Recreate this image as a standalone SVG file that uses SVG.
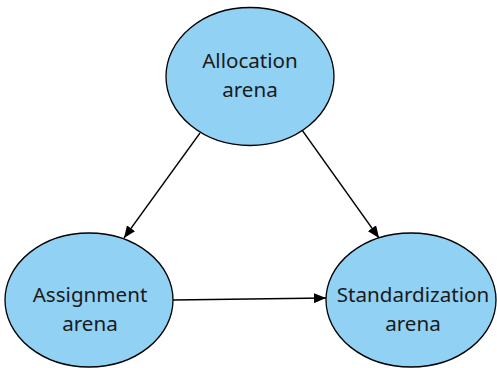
<svg xmlns="http://www.w3.org/2000/svg" width="497" height="368" viewBox="0 0 497 368">
  <style>
    .node ellipse { fill: #91d1f3; stroke: #000; stroke-width: 1.3; }
    .node text { font-family: "Noto Sans", "Open Sans", sans-serif; font-size: 20.6px; fill: #1a1a1a; text-anchor: middle; }
    .edge { stroke: #000; stroke-width: 1.3; fill: none; marker-end: url(#arrow); }
  </style>
  <defs>
    <marker id="arrow" markerWidth="12" markerHeight="10" refX="12" refY="5" orient="auto" markerUnits="userSpaceOnUse">
      <path d="M0,0 L12,5 L0,10 Z" fill="#000"/>
    </marker>
  </defs>
  <rect width="497" height="368" fill="#fff"/>

  <g id="connectors">
    <line class="edge" x1="200" y1="133" x2="124" y2="238"/>
    <line class="edge" x1="302" y1="130" x2="379" y2="238"/>
    <line class="edge" x1="173" y1="300" x2="326" y2="298"/>
  </g>

  <g id="allocation" class="node">
    <ellipse cx="250" cy="76.5" rx="84" ry="69"/>
    <text x="250" y="68">Allocation</text>
    <text x="250" y="97">arena</text>
  </g>

  <g id="assignment" class="node">
    <ellipse cx="89" cy="300" rx="84" ry="67"/>
    <text x="90" y="302">Assignment</text>
    <text x="90" y="331">arena</text>
  </g>

  <g id="standardization" class="node">
    <ellipse cx="411" cy="300" rx="85" ry="67"/>
    <text x="413" y="302">Standardization</text>
    <text x="413" y="331">arena</text>
  </g>
</svg>
